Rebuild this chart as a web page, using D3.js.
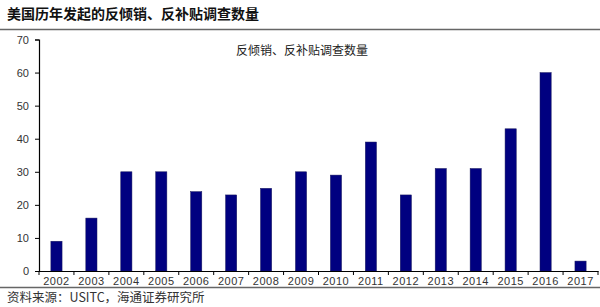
<!DOCTYPE html>
<html><head><meta charset="utf-8">
<script src="https://cdn.jsdelivr.net/npm/d3@7"></script>
<style>body{margin:0;background:#fff}svg{display:block}</style>
</head><body>
<script>
const years = ["2002","2003","2004","2005","2006","2007","2008","2009","2010","2011","2012","2013","2014","2015","2016","2017"];
const counts = [9,16,30,30,24,23,25,30,29,39,23,31,31,43,60,3];
const yTicks = [0,10,20,30,40,50,60,70];
const heading = "美国历年发起的反倾销、反补贴调查数量";
const chartTitle = "反倾销、反补贴调查数量";
const source = "资料来源：USITC，海通证券研究所";

(function(){
const W=600,H=307;
const svg=d3.select("body").append("svg").attr("width",W).attr("height",H);
const cjk='"Noto Sans CJK SC","Noto Sans",sans-serif';
const mL=39,mR=598,mT=39.5,mB=271;

svg.append("text").attr("x",7).attr("y",19).attr("font-family",cjk).attr("font-size",14).attr("font-weight","bold").attr("fill","#111").text(heading);
svg.append("line").attr("x1",0).attr("x2",W).attr("y1",29.5).attr("y2",29.5).attr("stroke","#666").attr("stroke-width",1.5);
svg.append("line").attr("x1",0).attr("x2",W).attr("y1",287.5).attr("y2",287.5).attr("stroke","#666").attr("stroke-width",1.5);
svg.append("text").attr("x",7).attr("y",302).attr("font-family",cjk).attr("font-size",12.5).attr("fill","#333").text(source);

const x=d3.scaleBand().domain(years).range([mL,mR]).paddingInner(0.68).paddingOuter(0.34);
const y=d3.scaleLinear().domain([0,70]).range([mB,mT]);

svg.append("text").attr("x",302).attr("y",55).attr("text-anchor","middle").attr("font-family",cjk).attr("font-size",12).attr("fill","#222").text(chartTitle);

svg.append("g").selectAll("rect").data(counts).join("rect")
  .attr("x",(d,i)=>x(years[i])).attr("width",x.bandwidth())
  .attr("y",d=>y(d)).attr("height",d=>mB-y(d))
  .attr("fill","#000080").attr("stroke","#1a1a5e").attr("stroke-width",0.5);

const ya=svg.append("g").attr("transform",`translate(${mL},0)`)
  .call(d3.axisLeft(y).tickValues(yTicks).tickSize(4).tickPadding(6));
ya.select(".domain").attr("stroke","#000").attr("stroke-width",1.2);
ya.selectAll(".tick line").attr("stroke","#000");
ya.selectAll("text").attr("font-family","Arial,'Liberation Sans',sans-serif").attr("font-size",11).attr("fill","#333");

const xa=svg.append("g").attr("transform",`translate(0,${mB})`)
  .call(d3.axisBottom(x).tickSize(0).tickPadding(6));
xa.select(".domain").attr("stroke","#000").attr("stroke-width",1.2);
xa.selectAll("text").attr("font-family","Arial,'Liberation Sans',sans-serif").attr("font-size",11).attr("letter-spacing",0.5).attr("fill","#333");
const bounds=d3.range(years.length+1).map(i=>mL+i*(mR-mL)/years.length);
xa.selectAll(".sep").data(bounds).join("line").attr("class","sep")
  .attr("x1",d=>d).attr("x2",d=>d).attr("y1",0).attr("y2",4).attr("stroke","#000");
})();
</script>
</body></html>
